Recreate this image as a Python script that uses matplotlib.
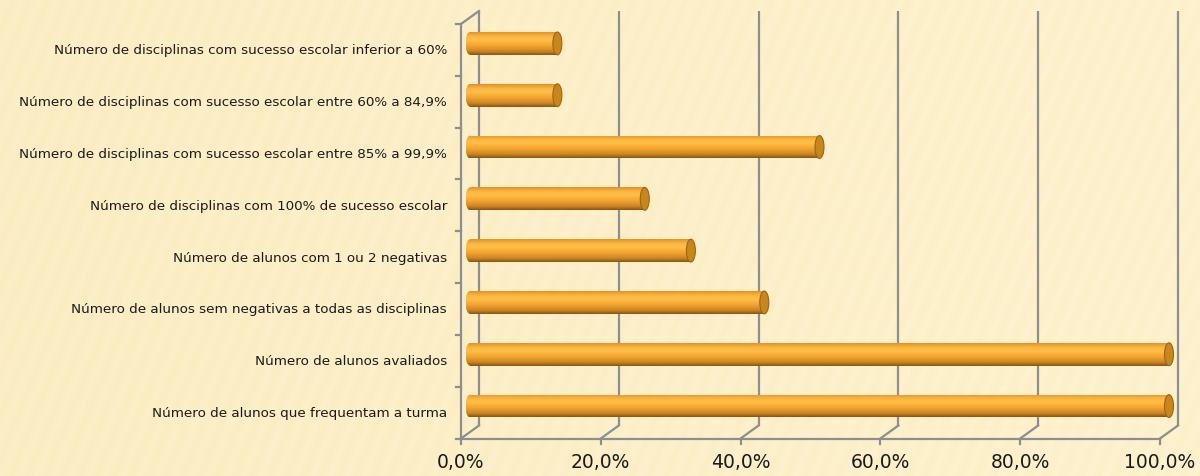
import numpy as np
import matplotlib
matplotlib.use("Agg")
import matplotlib.pyplot as plt
from matplotlib.patches import Rectangle, Ellipse
from matplotlib.colors import LinearSegmentedColormap

categories = [
    "Número de alunos que frequentam a turma",
    "Número de alunos avaliados",
    "Número de alunos sem negativas a todas as disciplinas",
    "Número de alunos com 1 ou 2 negativas",
    "Número de disciplinas com 100% de sucesso escolar",
    "Número de disciplinas com sucesso escolar entre 85% a 99,9%",
    "Número de disciplinas com sucesso escolar entre 60% a 84,9%",
    "Número de disciplinas com sucesso escolar inferior a 60%",
]
values = [100.0, 100.0, 42.1, 31.6, 25.0, 50.0, 12.5, 12.5]
xticks = [0, 20, 40, 60, 80, 100]
xtick_labels = ["0,0%", "20,0%", "40,0%", "60,0%", "80,0%", "100,0%"]

W, H, DPI = 1200, 477, 100
fig = plt.figure(figsize=(W / DPI, H / DPI), dpi=DPI)

# background texture
bg = fig.add_axes([0, 0, 1, 1], zorder=-10)
yy, xx = np.mgrid[0:H, 0:W]
theta = np.deg2rad(22)
phase = (xx * np.cos(theta) + yy * np.sin(theta)) / 16.0
pat = 0.5 + 0.5 * np.sin(2 * np.pi * phase)
grad = xx / W
c1 = np.array([0xFA, 0xEA, 0xBC]) / 255
c2 = np.array([0xFE, 0xF3, 0xD2]) / 255
mix = np.clip(0.3 * pat + 0.45 * grad + 0.2, 0, 1)[..., None]
img = c1 * (1 - mix) + c2 * mix
bg.imshow(img, aspect="auto", extent=[0, 1, 0, 1], interpolation="bilinear")
bg.axis("off")

# main axes at mid-depth of the 3D box (0 -> 470 px, 100 -> 1169 px)
x0_px, x100_px, top_px, bot_px = 470, 1169, 18.5, 433
pxx = (x100_px - x0_px) / 100.0
pad = 2.0
ax = fig.add_axes([(x0_px - pad * pxx) / W, (H - bot_px) / H,
                   (x100_px - x0_px + 2 * pad * pxx) / W, (bot_px - top_px) / H])
ax.patch.set_alpha(0)
ax.set_xlim(-pad, 100 + pad)
ax.set_ylim(-0.5, len(categories) - 0.5)
ax.axis("off")

pxy = (bot_px - top_px) / len(categories)
dxd = 9 / pxx
dyd = 6.5 / pxy
ylo, yhi = -0.5, len(categories) - 0.5
gcol = "#8E8E8E"
glw = 1.6

# back wall gridlines + floor diagonals
for v in xticks:
    ax.plot([v + dxd, v + dxd], [ylo + dyd, yhi + dyd], color=gcol, lw=glw, clip_on=False, zorder=1,
            solid_capstyle="butt")
    ax.plot([v + dxd, v - dxd], [ylo + dyd, ylo - dyd], color=gcol, lw=glw, clip_on=False, zorder=1)
    ax.plot([v - dxd, v - dxd], [ylo - dyd, ylo - dyd - 5 / pxy], color=gcol, lw=glw, clip_on=False, zorder=1)
# front bottom axis
ax.plot([0 - dxd, 100 - dxd], [ylo - dyd, ylo - dyd], color=gcol, lw=glw, clip_on=False, zorder=1)
# front left axis and top diagonal
ax.plot([-dxd, -dxd], [ylo - dyd, yhi - dyd], color=gcol, lw=glw, clip_on=False, zorder=1)
ax.plot([-dxd, dxd], [yhi - dyd, yhi + dyd], color=gcol, lw=glw, clip_on=False, zorder=1)
for k in range(len(categories) + 1):
    yk = k - 0.5 - dyd
    ax.plot([-dxd, -dxd - 5 / pxx], [yk, yk], color=gcol, lw=glw, clip_on=False, zorder=1)

# cylinder bars
cmap = LinearSegmentedColormap.from_list("cyl", [
    (0.0, "#E39428"), (0.18, "#FBB540"), (0.35, "#FFBF48"), (0.6, "#F3A42F"),
    (0.85, "#C88323"), (1.0, "#8A5516")])
gimg = np.linspace(0, 1, 64)[:, None]
bh = 0.44
rx = 4.5 / pxx
for i, v in enumerate(values):
    y0, y1 = i - bh / 2, i + bh / 2
    # body + rounded left end with the same shading
    im = ax.imshow(gimg, cmap=cmap, aspect="auto", extent=[0, v, y0, y1], zorder=3,
                   interpolation="bilinear", origin="upper")
    im.set_clip_path(Rectangle((0, y0), v, bh, transform=ax.transData))
    im2 = ax.imshow(gimg, cmap=cmap, aspect="auto", extent=[-rx, rx, y0, y1], zorder=3,
                    interpolation="bilinear", origin="upper")
    im2.set_clip_path(Ellipse((0, i), 2 * rx, bh, transform=ax.transData))
    # right end cap
    cap = Ellipse((v, i), 2 * rx, bh, facecolor="#C8861F", edgecolor="#9C6516", lw=0.8, zorder=4)
    ax.add_patch(cap)
    # category label
    ax.annotate(categories[i], xy=(-dxd, i - dyd), xytext=(-14 * 0.72, 0), textcoords="offset points",
                ha="right", va="center", fontsize=9.7, color="#1A1A1A", annotation_clip=False)

ax.set_xlim(-pad, 100 + pad)
ax.set_ylim(-0.5, len(categories) - 0.5)

for v, lab in zip(xticks, xtick_labels):
    ax.annotate(lab, xy=(v - dxd, ylo - dyd), xytext=(0, -14 * 0.72), textcoords="offset points",
                ha="center", va="top", fontsize=13.5, color="#1A1A1A", annotation_clip=False)

fig.savefig("out.png", dpi=DPI)
